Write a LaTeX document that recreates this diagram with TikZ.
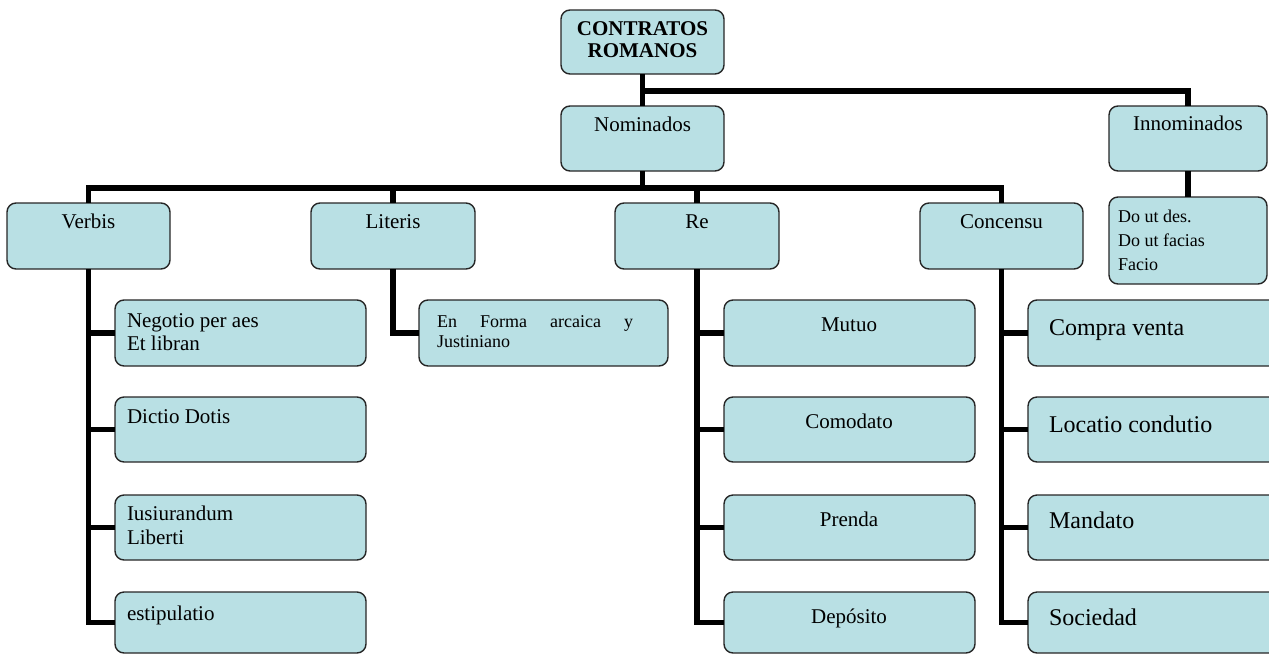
\documentclass[tikz,border=0pt]{standalone}
\usepackage{fontspec}
\setmainfont{Liberation Serif}
\usetikzlibrary{calc}
\definecolor{boxfill}{RGB}{185,224,228}
\tikzset{
  cbox/.style={draw=black!85, line width=1.4pt, fill=boxfill, rounded corners=9pt,
    inner sep=0pt, outer sep=0pt},
  link/.style={draw=black, line width=5.5pt},
  lbl/.style={inner sep=0pt, outer sep=0pt, font=\fontsize{21}{23}\selectfont},
  lblsmall/.style={inner sep=0pt, outer sep=0pt, font=\fontsize{18}{24}\selectfont},
  lblbig/.style={inner sep=0pt, outer sep=0pt, font=\fontsize{24}{26}\selectfont},
}
% rounded box from its corner coordinates: name, x1, y1, x2, y2
\newcommand\roundbox[5]{%
  \node[cbox, minimum width={#4-#2}, minimum height={#5-#3}] (#1)
    at ({(#2+#4)/2},{(#3+#5)/2}) {};}
\begin{document}
\begin{tikzpicture}[x=1pt, y=-1pt]
\useasboundingbox (0,0) rectangle (1269,654);
\clip (0,0) rectangle (1269,654);

% boxes
\roundbox{top}{561}{10}{724}{74}
\roundbox{nom}{561}{106}{724}{171}
\roundbox{inn}{1109}{106}{1267}{171}
\roundbox{innc}{1109}{197}{1267}{284}
\roundbox{verbis}{7}{203}{170}{269}
\roundbox{literis}{311}{203}{475}{269}
\roundbox{re}{615}{203}{779}{269}
\roundbox{concensu}{920}{203}{1083}{269}
% Verbis group
\roundbox{neg}{115}{300}{366}{366}
\roundbox{dic}{115}{397}{366}{462}
\roundbox{ius}{115}{495}{366}{560}
\roundbox{est}{115}{592}{366}{653}
% Literis group
\roundbox{forma}{419}{300}{668}{366}
% Re group
\roundbox{mut}{724}{300}{975}{366}
\roundbox{com}{724}{397}{975}{462}
\roundbox{pre}{724}{495}{975}{560}
\roundbox{dep}{724}{592}{975}{653}
% Concensu group
\roundbox{cv}{1028}{300}{1290}{366}
\roundbox{loc}{1028}{397}{1290}{462}
\roundbox{man}{1028}{495}{1290}{560}
\roundbox{soc}{1028}{592}{1290}{653}

% connectors
\coordinate (j1) at (642.5,91);
\coordinate (bus) at (642.5,188);
\draw[link] (top.south) -- (nom.north);
\draw[link] (j1) -| (inn.north);
\draw[link] (inn.south) -- (innc.north);
\draw[link] (nom.south) -- (bus);
\draw[link] (verbis.north) |- (bus) -| (concensu.north);
\draw[link] (literis.north) -- (literis.north |- bus);
\draw[link] (re.north) -- (re.north |- bus);
\foreach \c in {neg,dic,ius,est} \draw[link] (verbis.south) |- (\c.west);
\draw[link] (literis.south) |- (forma.west);
\foreach \c in {mut,com,pre,dep} \draw[link] (re.south) |- (\c.west);
\foreach \c in {cv,loc,man,soc} \draw[link] (concensu.south) |- (\c.west);

% labels (multi-line labels are placed by the baseline of their last line)
\node[lbl, anchor=base, align=center, font=\bfseries\fontsize{21}{22}\selectfont]
  (t-top) at (642.5,57) {CONTRATOS\\ROMANOS};
\node[lbl, anchor=base] (t-nom) at (642.5,131) {Nominados};
\node[lbl, anchor=base] (t-inn) at (1188,130) {Innominados};
\node[lblsmall, anchor=base west, align=left] (t-innc) at (1118,270)
  {Do ut des.\\Do ut facias\\Facio};
\node[lbl, anchor=base] (t-verbis) at (88.5,228) {Verbis};
\node[lbl, anchor=base] (t-literis) at (393,228) {Literis};
\node[lbl, anchor=base] (t-re) at (697,228) {Re};
\node[lbl, anchor=base] (t-concensu) at (1001.5,228) {Concensu};

\node[lbl, anchor=base west, align=left] (t-neg) at (127,350) {Negotio per aes\\Et libran};
\node[lbl, anchor=base west] (t-dic) at (127,423) {Dictio Dotis};
\node[lbl, anchor=base west, align=left, font=\fontsize{21}{24}\selectfont] (t-ius) at (127,544) {Iusiurandum\\Liberti};
\node[lbl, anchor=base west] (t-est) at (127,620) {estipulatio};

\node[lblsmall, anchor=base west, align=left, font=\fontsize{18}{20}\selectfont] (t-forma) at (437,347)
  {\makebox[196pt][s]{En Forma arcaica y}\\Justiniano};

\node[lbl, anchor=base] (t-mut) at (849,331) {Mutuo};
\node[lbl, anchor=base] (t-com) at (849,428) {Comodato};
\node[lbl, anchor=base] (t-pre) at (849,526) {Prenda};
\node[lbl, anchor=base] (t-dep) at (849,623) {Depósito};

\node[lblbig, anchor=base west] (t-cv) at (1049,335) {Compra venta};
\node[lblbig, anchor=base west] (t-loc) at (1049,432) {Locatio condutio};
\node[lblbig, anchor=base west] (t-man) at (1049,528) {Mandato};
\node[lblbig, anchor=base west] (t-soc) at (1049,625) {Sociedad};
\end{tikzpicture}
\end{document}
